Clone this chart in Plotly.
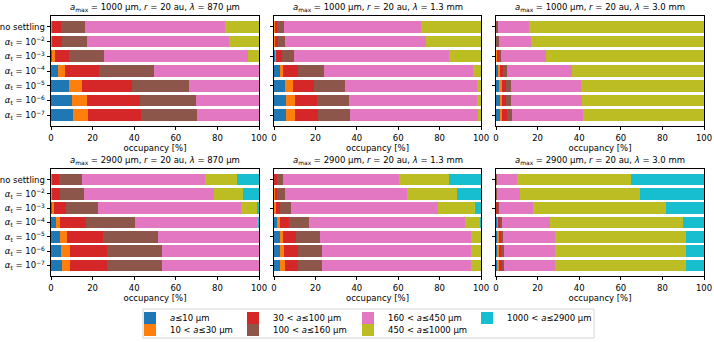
import plotly.graph_objects as go

W, H = 714, 342
FONT = dict(family="DejaVu Sans", size=8.5, color="black")

ROW_LABELS = [
    "no settling",
    "<i>α</i><sub>t</sub> = 10<sup>−2</sup>",
    "<i>α</i><sub>t</sub> = 10<sup>−3</sup>",
    "<i>α</i><sub>t</sub> = 10<sup>−4</sup>",
    "<i>α</i><sub>t</sub> = 10<sup>−5</sup>",
    "<i>α</i><sub>t</sub> = 10<sup>−6</sup>",
    "<i>α</i><sub>t</sub> = 10<sup>−7</sup>",
]
BIN_LABELS = [
    "<i>a</i>≤10 µm",
    "10 < <i>a</i>≤30 µm",
    "30 < <i>a</i>≤100 µm",
    "100 < <i>a</i>≤160 µm",
    "160 < <i>a</i>≤450 µm",
    "450 < <i>a</i>≤1000 µm",
    "1000 < <i>a</i>≤2900 µm",
]
PANEL_TITLES = [
    "<i>a</i><sub>max</sub> = 1000 µm, <i>r</i> = 20 au, <i>λ</i> = 870 µm",
    "<i>a</i><sub>max</sub> = 1000 µm, <i>r</i> = 20 au, <i>λ</i> = 1.3 mm",
    "<i>a</i><sub>max</sub> = 1000 µm, <i>r</i> = 20 au, <i>λ</i> = 3.0 mm",
    "<i>a</i><sub>max</sub> = 2900 µm, <i>r</i> = 20 au, <i>λ</i> = 870 µm",
    "<i>a</i><sub>max</sub> = 2900 µm, <i>r</i> = 20 au, <i>λ</i> = 1.3 mm",
    "<i>a</i><sub>max</sub> = 2900 µm, <i>r</i> = 20 au, <i>λ</i> = 3.0 mm",
]
X_TICKS = [0, 20, 40, 60, 80, 100]

# occupancy [%]: one row per ROW_LABELS entry, one column per BIN_LABELS entry
OCC_1000_870 = [
    [0.3, 0.3, 4.0, 11.9, 67.0, 16.5, 0.0],
    [0.3, 0.3, 4.5, 12.4, 68.0, 14.5, 0.0],
    [0.8, 0.9, 6.8, 16.9, 69.1, 5.5, 0.0],
    [3.5, 3.2, 16.5, 26.4, 50.4, 0.0, 0.0],
    [8.8, 6.1, 24.1, 27.5, 33.5, 0.0, 0.0],
    [10.3, 7.2, 25.5, 26.5, 30.5, 0.0, 0.0],
    [10.7, 7.3, 25.3, 26.7, 30.0, 0.0, 0.0],
]
OCC_1000_1300 = [
    [0.2, 0.2, 1.2, 3.4, 66.0, 29.0, 0.0],
    [0.2, 0.2, 1.4, 3.7, 67.7, 26.8, 0.0],
    [0.5, 0.4, 2.8, 5.8, 74.8, 15.7, 0.0],
    [2.7, 1.8, 7.2, 12.3, 72.0, 4.0, 0.0],
    [5.3, 3.7, 10.3, 15.0, 63.7, 2.0, 0.0],
    [5.8, 4.3, 10.9, 15.2, 62.1, 1.7, 0.0],
    [6.0, 4.3, 10.9, 15.3, 61.9, 1.6, 0.0],
]
OCC_1000_3000 = [
    [0.05, 0.05, 0.2, 0.5, 14.9, 84.3, 0.0],
    [0.05, 0.05, 0.3, 0.8, 15.8, 83.0, 0.0],
    [0.3, 0.3, 0.9, 0.8, 21.7, 76.0, 0.0],
    [1.0, 0.7, 1.8, 1.8, 31.4, 63.3, 0.0],
    [1.6, 1.1, 2.1, 2.3, 33.9, 59.0, 0.0],
    [1.7, 1.2, 2.1, 2.4, 34.1, 58.5, 0.0],
    [1.7, 1.2, 2.3, 2.4, 34.0, 58.4, 0.0],
]
OCC_2900_870 = [
    [0.3, 0.3, 3.2, 11.0, 59.4, 15.0, 10.8],
    [0.3, 0.3, 3.9, 11.3, 62.7, 14.0, 7.5],
    [0.6, 0.6, 6.0, 15.6, 68.7, 7.7, 0.8],
    [2.2, 2.1, 12.3, 23.7, 58.9, 0.7, 0.1],
    [4.4, 3.2, 17.4, 26.3, 48.7, 0.0, 0.0],
    [5.0, 3.9, 17.8, 26.6, 46.7, 0.0, 0.0],
    [5.2, 3.8, 18.0, 26.5, 46.5, 0.0, 0.0],
]
OCC_2900_1300 = [
    [0.2, 0.2, 0.9, 3.2, 55.7, 24.5, 15.3],
    [0.2, 0.2, 1.1, 3.7, 59.0, 24.2, 11.6],
    [0.4, 0.5, 2.1, 5.0, 71.3, 18.0, 2.7],
    [1.6, 1.1, 4.7, 9.3, 75.5, 7.6, 0.2],
    [2.8, 1.7, 6.3, 11.2, 73.0, 5.0, 0.0],
    [3.0, 2.0, 6.5, 11.5, 72.3, 4.7, 0.0],
    [3.1, 2.0, 6.5, 11.4, 72.3, 4.7, 0.0],
]
OCC_2900_3000 = [
    [0.05, 0.05, 0.1, 0.3, 9.7, 54.8, 35.0],
    [0.05, 0.05, 0.2, 0.4, 10.6, 57.7, 31.0],
    [0.2, 0.2, 0.6, 0.6, 16.2, 63.9, 18.3],
    [0.5, 0.5, 1.0, 1.0, 23.0, 64.0, 10.0],
    [0.8, 0.6, 1.1, 1.0, 24.8, 63.1, 8.6],
    [0.8, 0.7, 1.1, 1.1, 24.8, 62.9, 8.6],
    [0.9, 0.7, 1.1, 1.1, 24.8, 62.8, 8.6],
]
PANELS = [OCC_1000_870, OCC_1000_1300, OCC_1000_3000,
          OCC_2900_870, OCC_2900_1300, OCC_2900_3000]

COLORS = ["#1f77b4", "#ff7f0e", "#d62728", "#8c564b",
          "#e377c2", "#bcbd22", "#17becf"]

# panel frames in pixels (left, right) / (top, bottom)
X_DOM_PX = [(51, 259), (274, 481), (496, 704)]
Y_DOM_PX = [(16, 126), (169, 276)]

# legend entries: text start x and row centre y, in pixels (matplotlib ncol=4)
LEG_POS_PX = [(170, 318), (170, 330), (273, 318), (273, 330),
              (388, 318), (388, 330), (507, 318)]
LEG_BOX_PX = (143, 309, 594, 338)


def px_x(x):
    return x / W


def px_y(y):
    return 1 - y / H


fig = go.Figure()
layout = {}
annotations = []

for p, occ in enumerate(PANELS):
    row, col = divmod(p, 3)
    ax = "" if p == 0 else str(p + 1)
    for b, label in enumerate(BIN_LABELS):
        fig.add_trace(
            go.Bar(
                y=ROW_LABELS,
                x=[r[b] for r in occ],
                orientation="h",
                name=label,
                width=0.8,
                marker=dict(color=COLORS[b], line_width=0),
                xaxis="x" + ax,
                yaxis="y" + ax,
                showlegend=(p == 0),
                legend="legend" if b == 0 else f"legend{b + 1}",
            )
        )

    x0, x1 = X_DOM_PX[col]
    top, bottom = Y_DOM_PX[row]
    layout["xaxis" + ax] = dict(
        domain=[px_x(x0), px_x(x1)],
        anchor="y" + ax,
        automargin=False,
        range=[0, 100],
        tickvals=X_TICKS,
        ticks="outside",
        ticklen=3.5,
        tickwidth=0.8,
        tickcolor="black",
        showline=True,
        mirror=True,
        linecolor="black",
        linewidth=0.8,
        showgrid=False,
        zeroline=False,
        tickfont=FONT,
        title=dict(text="occupancy [%]", font=FONT, standoff=2),
    )
    layout["yaxis" + ax] = dict(
        domain=[px_y(bottom), px_y(top)],
        anchor="x" + ax,
        automargin=False,
        type="category",
        categoryorder="array",
        categoryarray=ROW_LABELS,
        range=[6.74, -0.74],
        ticks="outside",
        ticklen=3.5,
        tickwidth=0.8,
        tickcolor="black",
        showticklabels=(col == 0),
        showline=True,
        mirror=True,
        linecolor="black",
        linewidth=0.8,
        showgrid=False,
        zeroline=False,
        tickfont=FONT,
    )
    annotations.append(
        dict(
            x=px_x((x0 + x1) / 2),
            y=px_y(top),
            xref="paper",
            yref="paper",
            xanchor="center",
            yanchor="bottom",
            yshift=1,
            text=PANEL_TITLES[p],
            showarrow=False,
            font=FONT,
        )
    )

for b, (tx, ty) in enumerate(LEG_POS_PX):
    key = "legend" if b == 0 else f"legend{b + 1}"
    layout[key] = dict(
        x=px_x(tx - 40),
        y=px_y(ty),
        xanchor="left",
        yanchor="middle",
        orientation="v",
        bgcolor="rgba(0,0,0,0)",
        borderwidth=0,
        font=FONT,
    )

lx0, ly0, lx1, ly1 = LEG_BOX_PX
fig.add_shape(
    type="rect",
    xref="paper",
    yref="paper",
    x0=px_x(lx0),
    x1=px_x(lx1),
    y0=px_y(ly1),
    y1=px_y(ly0),
    line=dict(color="#d6d6d6", width=1),
    fillcolor="rgba(0,0,0,0)",
)

fig.update_layout(
    **layout,
    annotations=annotations,
    barmode="stack",
    width=W,
    height=H,
    margin=dict(l=0, r=0, t=0, b=0, autoexpand=False),
    paper_bgcolor="white",
    plot_bgcolor="white",
    font=FONT,
)

# the page body has an 8px default margin; drop it so the figure fills the window
fig.write_html(
    "out.html",
    config={"displayModeBar": False},
    post_script="document.body.style.margin = '0';",
)
